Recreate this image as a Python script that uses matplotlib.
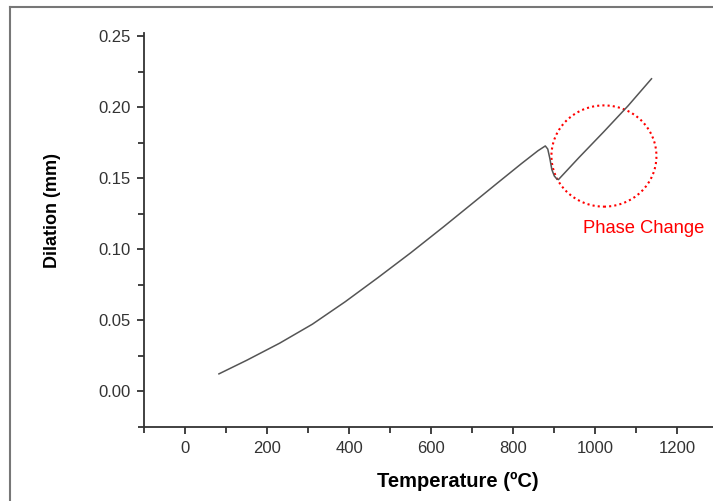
import matplotlib.pyplot as plt
from matplotlib.patches import Ellipse
from matplotlib.lines import Line2D

plt.rcParams['font.family'] = ['Liberation Sans', 'DejaVu Sans']

# dilation curve
temperature = [82, 150, 230, 310, 390, 470, 550, 630, 700, 760, 820, 860, 878,
               884, 889, 894, 900, 906, 910, 960, 1020, 1080, 1137]
dilation = [0.0122, 0.0218, 0.0338, 0.0472, 0.0630, 0.0800, 0.0975, 0.1158, 0.1322,
            0.1463, 0.1603, 0.1693, 0.1727, 0.1705, 0.164, 0.156, 0.1515, 0.1495, 0.149,
            0.1645, 0.1825, 0.201, 0.220]

xticks = [0, 200, 400, 600, 800, 1000, 1200]
yticks = [0.00, 0.05, 0.10, 0.15, 0.20, 0.25]

fig = plt.figure(figsize=(7.13, 5.01), dpi=100)
ax = fig.add_axes([0.2024, 0.1483, 0.7976, 0.7866])

ax.plot(temperature, dilation, color='#555555', lw=1.1)

# phase change marker
circ = Ellipse((1021, 0.1656), 256, 0.0713, fill=False, edgecolor='red',
               linestyle=(0, (1, 1.5)), lw=1.5)
ax.add_patch(circ)
ax.text(971, 0.1144, 'Phase Change', color='red', fontsize=13.2, ha='left', va='center')

ax.set_xlim(-100, 1287)
ax.set_ylim(-0.025, 0.2525)
ax.set_xticks(xticks)
ax.set_yticks(yticks)
ax.set_xticks([-100, 100, 300, 500, 700, 900, 1100], minor=True)
ax.set_yticks([-0.025, 0.025, 0.075, 0.125, 0.175, 0.225], minor=True)
ax.set_yticklabels([f'{v:.2f}' for v in yticks])

for s in ['top', 'right']:
    ax.spines[s].set_visible(False)
for s in ['left', 'bottom']:
    ax.spines[s].set_linewidth(1.3)
    ax.spines[s].set_color('#333333')

ax.tick_params(which='major', length=5, width=1.3, color='#333333', labelsize=12,
               labelcolor='#333333', pad=5)
ax.tick_params(which='minor', length=4, width=1.3, color='#333333')

ax.set_xlabel('Temperature (ºC)', fontsize=14.5, fontweight='bold')
ax.set_ylabel('Dilation (mm)', fontsize=13, fontweight='bold')
ax.xaxis.set_label_coords(0.551, -0.140)
ax.yaxis.set_label_coords(-0.162, 0.549)
ax.xaxis.label.set_va('center')
ax.yaxis.label.set_va('center')

# frame lines around the picture
fig.add_artist(Line2D([0.014, 0.014], [0, 0.986], color='#777777', lw=1.5,
                      transform=fig.transFigure))
fig.add_artist(Line2D([0.014, 1.0], [0.986, 0.986], color='#777777', lw=1.5,
                      transform=fig.transFigure))

plt.savefig('out.png', dpi=100)
